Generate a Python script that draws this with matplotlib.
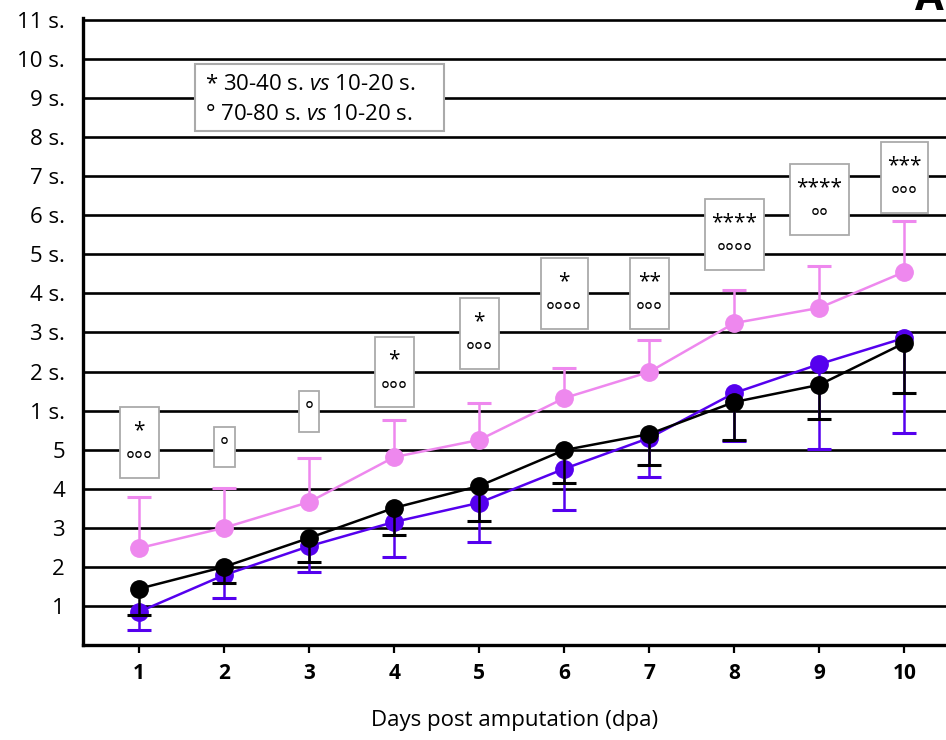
import matplotlib
matplotlib.use("Agg")
import matplotlib.pyplot as plt
from matplotlib.patches import Rectangle

plt.rcParams['font.family'] = ['Open Sans', 'DejaVu Sans']
plt.rcParams['mathtext.fontset'] = 'custom'
plt.rcParams['mathtext.it'] = 'Open Sans:italic'
plt.rcParams['mathtext.rm'] = 'Open Sans'

# data (y in tick units: 1..5, then 1 s. .. 11 s.)
days = [1, 2, 3, 4, 5, 6, 7, 8, 9, 10]
pink_mean = [2.48, 3.00, 3.66, 4.81, 5.25, 6.32, 6.99, 8.24, 8.63, 9.55]
pink_top = [3.79, 4.02, 4.79, 5.76, 6.20, 7.09, 7.81, 9.09, 9.70, 10.86]
purple_mean = [0.85, 1.79, 2.53, 3.15, 3.64, 4.51, 5.30, 6.45, 7.19, 7.86]
purple_low = [0.38, 1.20, 1.87, 2.25, 2.64, 3.46, 4.30, 5.22, 5.02, 5.43]
black_mean = [1.44, 2.00, 2.74, 3.51, 4.07, 4.99, 5.40, 6.22, 6.66, 7.73]
black_low = [0.77, 1.59, 2.13, 2.82, 3.18, 4.15, 4.61, 5.25, 5.79, 6.45]

ytick_pos = list(range(1, 17))
ytick_lbl = ['1', '2', '3', '4', '5'] + [f'{i} s.' for i in range(1, 12)]

stars = ['*', '', '', '*', '*', '*', '**', '****', '****', '***']
circles = ['°°°', '°', '°', '°°°', '°°°', '°°°°', '°°°', '°°°°', '°°', '°°°']

# significance boxes layout (bottom, top in y units; width in x units)
box_bot = [4.28, 4.56, 5.45, 6.09, 7.07, 8.09, 8.09, 9.60, 10.50, 11.06]
box_top = [6.09, 5.58, 6.50, 7.89, 8.88, 9.91, 9.91, 11.42, 12.31, 12.88]
box_w = [0.46, 0.25, 0.24, 0.46, 0.46, 0.55, 0.46, 0.69, 0.69, 0.55]

PINK = '#ee88ee'
PURPLE = '#5500ee'
BLACK = '#000000'

fig = plt.figure(figsize=(9.46, 7.40), dpi=100)
ax = fig.add_axes([83 / 946, 1 - 645 / 740, 1 - 83 / 946, (645 - 18) / 740])

for y in ytick_pos:
    ax.axhline(y, color='black', lw=1.9, zorder=0.5)


def series(mean, bar_end, color, z):
    ax.vlines(days, mean, bar_end, color=color, lw=1.8, zorder=z)
    ax.plot(days, bar_end, ls='none', marker='_', ms=17, mew=2.2,
            color=color, zorder=z)
    ax.plot(days, mean, color=color, lw=1.8, marker='o', ms=12.5,
            zorder=z + 0.1)


series(pink_mean, pink_top, PINK, 2)
series(purple_mean, purple_low, PURPLE, 3)
series(black_mean, black_low, BLACK, 4)

for d, s, c, b, t, w in zip(days, stars, circles, box_bot, box_top, box_w):
    ax.add_patch(Rectangle((d - w / 2, b), w, t - b, fc='white', ec='#aaaaaa',
                           lw=1.3, zorder=5))
    if s:
        ax.text(d, t - 0.60, s, ha='center', va='center', fontsize=15,
                zorder=6)
        ax.text(d, t - 1.40, c, ha='center', va='center', fontsize=15,
                zorder=6)
    else:
        ax.text(d, t - 0.52, c, ha='center', va='center', fontsize=15,
                zorder=6)

# legend box
ax.add_patch(Rectangle(((195 - 83) / 863, (645 - 131) / 627),
                       (444 - 195) / 863, (131 - 64) / 627,
                       transform=ax.transAxes, fc='white', ec='#aaaaaa',
                       lw=1.5, zorder=5))
ax.text((205 - 83) / 863, (645 - 84) / 627, r'* 30-40 s. $\mathit{vs}$ 10-20 s.',
        transform=ax.transAxes, ha='left', va='center', fontsize=16, zorder=6)
ax.text((205 - 83) / 863, (645 - 114) / 627, r'° 70-80 s. $\mathit{vs}$ 10-20 s.',
        transform=ax.transAxes, ha='left', va='center', fontsize=16, zorder=6)

ax.set_xlim(0.34, 10.49)
ax.set_ylim(0, 16.05)
ax.set_xticks(days)
ax.set_xticklabels([str(d) for d in days], fontweight='bold', fontsize=15)
ax.set_yticks(ytick_pos)
ax.set_yticklabels(ytick_lbl, fontsize=16)
ax.tick_params(axis='y', length=0, pad=13)
ax.tick_params(axis='x', length=6, width=1.6, direction='out', pad=7)
for side in ('top', 'right'):
    ax.spines[side].set_visible(False)
for side in ('left', 'bottom'):
    ax.spines[side].set_linewidth(2.4)
ax.set_xlabel('Days post amputation (dpa)', fontsize=16, labelpad=19)

fig.text(915 / 946, 1 - 10 / 740, 'A', fontsize=30, fontweight='bold',
         ha='left', va='baseline')

fig.savefig('out.png', dpi=100)
